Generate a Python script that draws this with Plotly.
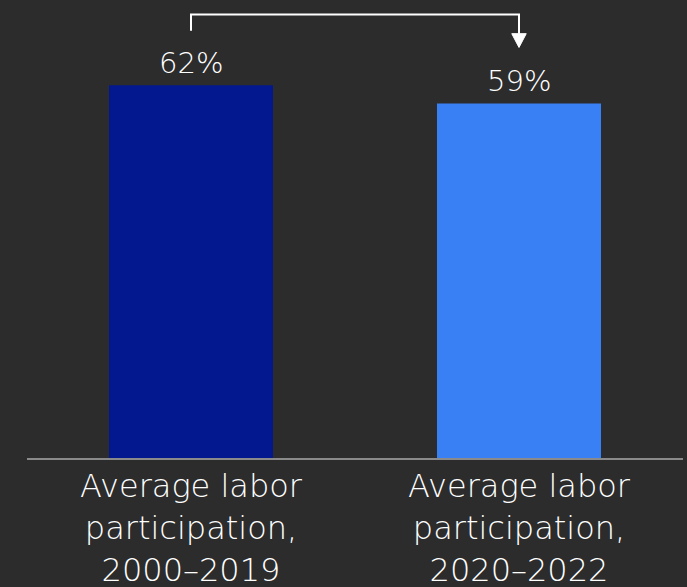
import plotly.graph_objects as go

# Labor participation averages for two periods
categories = ["Average labor<br>participation,<br>2000–2019",
              "Average labor<br>participation,<br>2020–2022"]
values = [62, 59]
value_labels = ["62%", "59%"]
bar_colors = ["#03178f", "#3a80f5"]

BG = "#2c2c2c"
FONT = "DejaVu Sans"
TEXT = "#ffffff"

x_pos = list(range(len(categories)))

fig = go.Figure(
    go.Bar(
        x=x_pos,
        y=values,
        width=0.5,
        marker=dict(color=bar_colors, line=dict(width=0)),
        hoverinfo="skip",
    )
)

# Value labels above each bar
for xi, v, lab in zip(x_pos, values, value_labels):
    fig.add_annotation(
        x=xi, y=v, text=lab, showarrow=False,
        yanchor="bottom", yshift=3,
        font=dict(family=FONT, size=29, color=TEXT, weight=200),
    )

# Bracket arrow from the first bar to the second
top = max(values) + 11.8
left_end = values[0] + 9.1
tip = values[1] + 9.3
head_base = tip + 2.3
hw = 0.022
fig.add_shape(
    type="path",
    path=f"M {x_pos[0]} {left_end} L {x_pos[0]} {top} L {x_pos[1]} {top} L {x_pos[1]} {head_base}",
    line=dict(color="white", width=2),
    xref="x", yref="y",
)
fig.add_shape(
    type="path",
    path=f"M {x_pos[1]-hw} {head_base} L {x_pos[1]+hw} {head_base} L {x_pos[1]} {tip} Z",
    line=dict(color="white", width=1),
    fillcolor="white",
    xref="x", yref="y",
)

fig.update_layout(
    width=687, height=587,
    margin=dict(l=27, r=4, t=0, b=129),
    paper_bgcolor=BG, plot_bgcolor=BG,
    showlegend=False,
    xaxis=dict(
        range=[-0.5, 1.5], automargin=False,
        tickmode="array", tickvals=x_pos, ticktext=categories,
        showline=True, linecolor="#8a8a8a", linewidth=2,
        showgrid=False, zeroline=False, ticks="",
        ticklabelstandoff=-1,
        tickfont=dict(family=FONT, size=32, color=TEXT, weight=200),
        fixedrange=True,
    ),
    yaxis=dict(
        range=[0, 76.2], visible=False, showgrid=False, zeroline=False,
        automargin=False, fixedrange=True,
    ),
)

fig.write_html("out.html")
